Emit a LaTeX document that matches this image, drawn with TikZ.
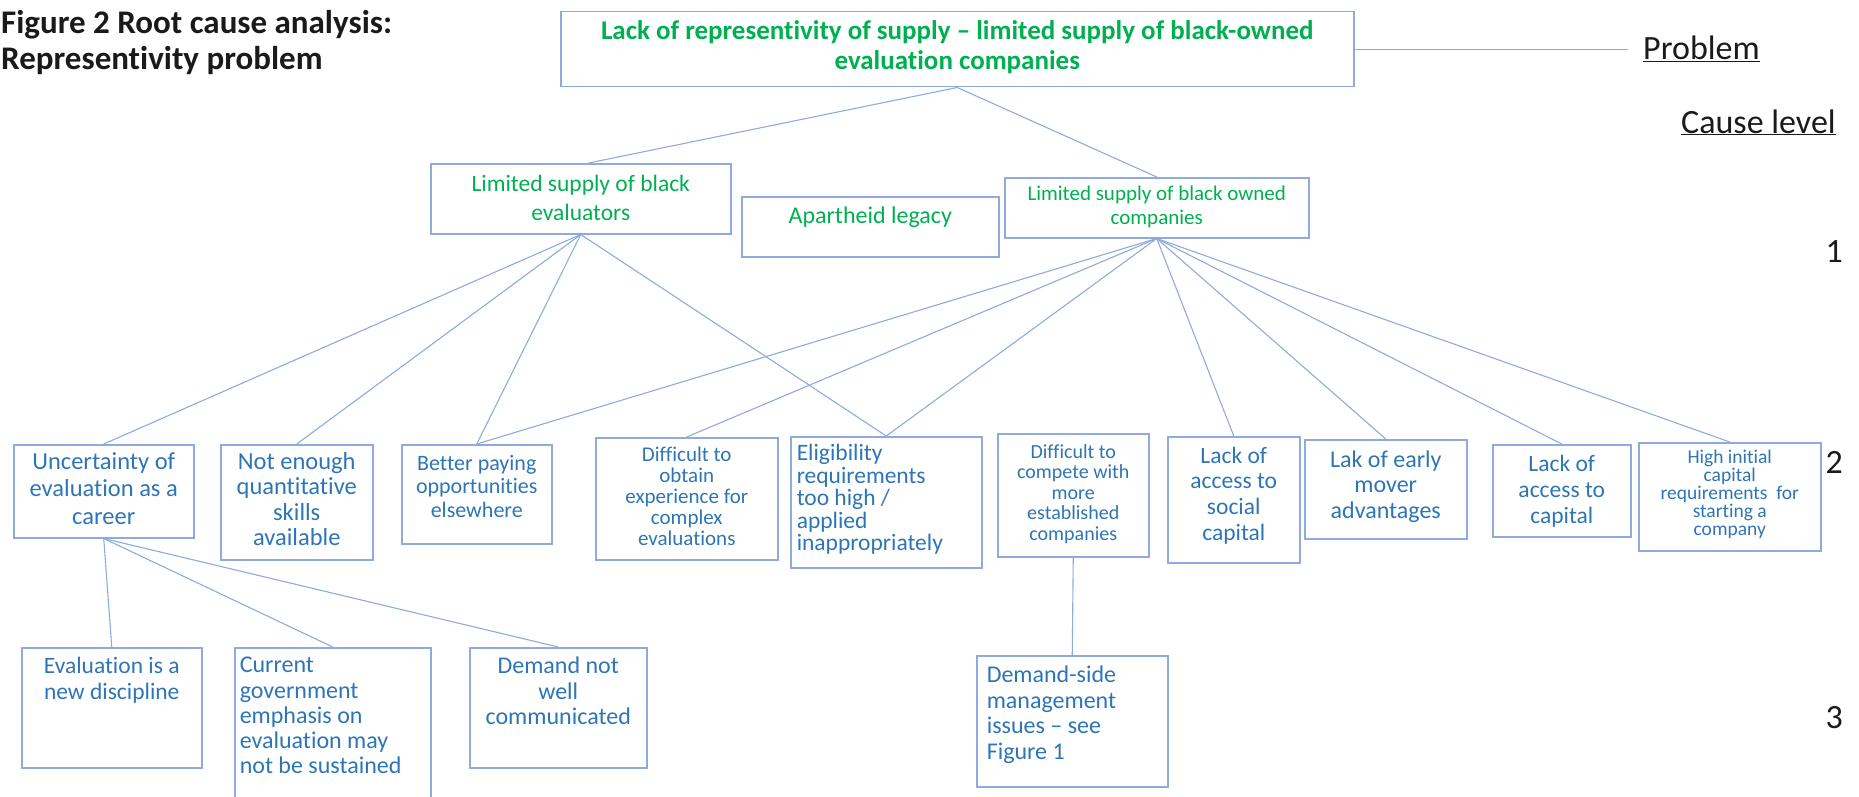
\documentclass[tikz,border=0pt]{standalone}
\usepackage{fontspec}
\setmainfont{Carlito}[Ligatures={TeX,NoCommon}]
\usetikzlibrary{calc}
\definecolor{lb}{HTML}{8FAADC}
\definecolor{tb}{HTML}{2E75B6}
\definecolor{gr}{HTML}{00B050}
\definecolor{ink}{HTML}{1A1A1A}
% #1 height, #2 width, #3 top pad, #4 font size, #5 leading, #6 text
\newcommand{\bxc}[6]{\parbox[c][#1pt][t]{#2pt}{\vspace*{#3pt}\centering\fontsize{#4}{#5}\selectfont #6\par}}
% same, left aligned with #7 left indent
\newcommand{\bxl}[7]{\parbox[c][#1pt][t]{#2pt}{\vspace*{#3pt}\raggedright\leftskip=#7pt\fontsize{#4}{#5}\selectfont #6\par}}
\tikzset{
  box/.style={draw=lb, line width=1.5pt, inner sep=0pt, anchor=north west, text=tb},
  gbox/.style={box, text=gr},
  conn/.style={draw=lb, line width=1.1pt},
  lbl/.style={inner sep=0pt, text=ink, font=\fontsize{34}{40}\selectfont}
}
\begin{document}
\begin{tikzpicture}[x=1pt,y=-1pt]
\useasboundingbox (0,0) rectangle (1859,797);
% title
\node[inner sep=0pt, anchor=north west, align=left, text=ink, font=\fontsize{33}{36}\selectfont\bfseries] (title) at (1,10) {Figure 2 Root cause analysis:\\Representivity problem};
% problem
\node[gbox] (top) at (560,11) {\bxc{75}{793}{8.7}{27}{30}{\bfseries Lack of representivity of supply – limited supply of black-owned\\evaluation companies}};
% level 1
\node[gbox] (l1a) at (430,163) {\bxc{70}{300}{11}{23.5}{29}{Limited supply of black\\evaluators}};
\node[gbox] (apart) at (741,196) {\bxc{60}{257}{9.9}{24}{26}{Apartheid legacy}};
\node[gbox] (l1b) at (1004,177) {\bxc{60}{304}{8}{21}{24}{Limited supply of black owned\\companies}};
% level 2
\node[box] (b1) at (13,444) {\bxc{93}{180}{7.7}{24.5}{27.5}{Uncertainty of\\evaluation as a\\career}};
\node[box] (b2) at (220,444) {\bxc{115}{152}{7.7}{24.5}{25.5}{Not enough\\quantitative\\skills\\available}};
\node[box] (b3) at (401,444) {\bxc{99}{150}{10.6}{22}{23.5}{Better paying\\opportunities\\elsewhere}};
\node[box] (b4) at (595,437) {\bxc{122}{182}{9}{21}{21}{Difficult to\\obtain\\experience  for\\complex\\evaluations}};
\node[box] (b5) at (790,436) {\bxl{131}{191}{7.6}{23.5}{22.5}{Eligibility\\requirements\\too high /\\applied\\inappropriately}{6}};
\node[box] (b6) at (997,433) {\bxc{123}{151}{10.4}{20}{20.5}{Difficult to\\compete with\\more\\established\\companies}};
\node[box] (b7) at (1167,436) {\bxc{126}{132}{10.1}{23.5}{25.7}{Lack of\\access to\\social\\capital}};
\node[box] (b8) at (1304,439) {\bxc{99}{162}{10.9}{24}{25.5}{Lak of early\\mover\\advantages}};
\node[box] (b9) at (1492,444) {\bxc{92}{138}{10.1}{23.5}{26}{Lack of\\access to\\capital}};
\node[box] (b10) at (1638,442) {\bxc{108}{182}{7.6}{19.5}{17.8}{High initial\\capital\\requirements~ for\\starting a\\company}};
% level 3
\node[box] (c1) at (21,647) {\bxc{120}{180}{9.5}{23.5}{25.5}{Evaluation is a\\new discipline}};
\node[box] (c2) at (234,647) {\bxl{183}{196}{9.5}{24}{25.2}{Current\\government\\emphasis on\\evaluation may\\not be sustained}{5}};
\node[box] (c3) at (469,647) {\bxc{120}{177}{9.5}{24}{25.5}{Demand not\\well\\communicated}};
\node[box] (c4) at (976,655) {\bxl{131}{191}{10}{24}{25.7}{Demand-side\\management\\issues – see\\Figure 1}{10}};
% labels
\node[lbl, anchor=base west] (prob) at (1643,60) {\underline{Problem}};
\node[lbl, anchor=base west] (cause) at (1681,133) {\underline{Cause level}};
\node[lbl, anchor=base east] (n1) at (1843,262) {1};
\node[lbl, anchor=base east] (n2) at (1843,473) {2};
\node[lbl, anchor=base east] (n3) at (1843,728) {3};
% connectors
\coordinate (pend) at ([xshift=-15pt]top.east -| prob.west);
\draw[conn] (top.east) -- (pend);
\draw[conn] (top.south) -- ([xshift=8pt]l1a.north);
\draw[conn] (top.south) -- (l1b.north);
\draw[conn] (l1a.south) -- (b1.north);
\draw[conn] (l1a.south) -- (b2.north);
\draw[conn] (l1a.south) -- (b3.north);
\draw[conn] (l1a.south) -- (b5.north);
\draw[conn] (l1b.south) -- (b3.north);
\draw[conn] (l1b.south) -- (b4.north);
\draw[conn] (l1b.south) -- (b5.north);
\draw[conn] (l1b.south) -- (b7.north);
\draw[conn] (l1b.south) -- (b8.north);
\draw[conn] (l1b.south) -- (b9.north);
\draw[conn] (l1b.south) -- (b10.north);
\draw[conn] (b1.south) -- (c1.north);
\draw[conn] (b1.south) -- (c2.north);
\draw[conn] (b1.south) -- (c3.north);
\draw[conn] (b6.south) -- (c4.north);
\end{tikzpicture}
\end{document}
